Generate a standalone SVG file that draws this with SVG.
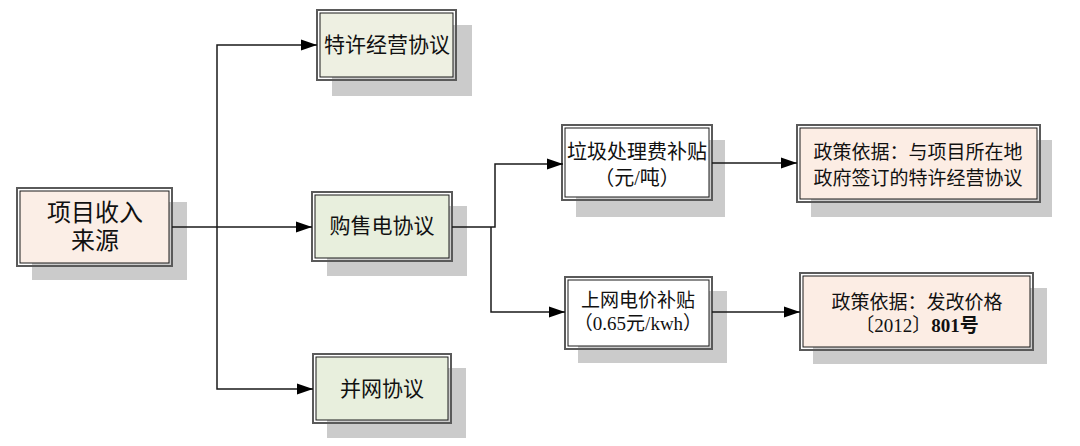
<svg xmlns="http://www.w3.org/2000/svg" width="1080" height="446" viewBox="0 0 1080 446">
<defs>
<marker id="arr" markerUnits="userSpaceOnUse" markerWidth="18" markerHeight="12" refX="16" refY="6" orient="auto">
<path d="M0,0.5 L16,6 L0,11.5 Z" fill="#000"/>
</marker>
</defs>
<style>
.sh{fill:#cbcbcb}
.o{stroke:#5a5a5a;stroke-width:2;fill:none}
.i{stroke:#1a1a1a;stroke-width:1;}
.t{font-family:"Liberation Serif","Noto Sans CJK SC",serif;fill:#111;text-anchor:middle}
.c{stroke:#1a1a1a;stroke-width:1.5;fill:none}
</style>
<rect width="1080" height="446" fill="#fff"/>
<g id="n1">
<rect class="sh" x="32" y="202" width="155" height="78"/>
<rect class="o" x="17" y="188" width="155" height="78" fill="#fff"/>
<rect class="i" x="20" y="191" width="149" height="72" fill="#fbeee6"/>
<text class="t" x="95" y="221" font-size="24">项目收入</text>
<text class="t" x="95" y="249" font-size="24">来源</text>
</g>
<g id="n2">
<rect class="sh" x="332" y="25" width="140" height="71"/>
<rect class="o" x="317" y="10" width="139" height="70" fill="#fff"/>
<rect class="i" x="320" y="13" width="133" height="64" fill="#eef0e2"/>
<text class="t" x="387" y="52" font-size="21">特许经营协议</text>
</g>
<g id="n3">
<rect class="sh" x="327" y="206" width="140" height="70"/>
<rect class="o" x="312" y="192" width="140" height="69" fill="#fff"/>
<rect class="i" x="315" y="195" width="134" height="63" fill="#e8efdd"/>
<text class="t" x="382" y="233" font-size="21">购售电协议</text>
</g>
<g id="n4">
<rect class="sh" x="327" y="368" width="139" height="70"/>
<rect class="o" x="313" y="354" width="138" height="69" fill="#fff"/>
<rect class="i" x="316" y="357" width="132" height="63" fill="#e8efdd"/>
<text class="t" x="382" y="396" font-size="21">并网协议</text>
</g>
<g id="n5">
<rect class="sh" x="576" y="140" width="149" height="77"/>
<rect class="o" x="562" y="125" width="150" height="75" fill="#fff"/>
<rect class="i" x="565" y="128" width="144" height="69" fill="#fff"/>
<text class="t" x="637" y="159" font-size="20">垃圾处理费补贴</text>
<text class="t" x="637" y="185" font-size="20">（元/吨）</text>
</g>
<g id="n6">
<rect class="sh" x="578" y="291" width="149" height="72"/>
<rect class="o" x="565" y="277" width="147" height="72" fill="#fff"/>
<rect class="i" x="568" y="280" width="141" height="66" fill="#fff"/>
<text class="t" x="638" y="307" font-size="19">上网电价补贴</text>
<text class="t" x="638" y="330" font-size="19">（0.65元/kwh）</text>
</g>
<g id="n7">
<rect class="sh" x="811" y="140" width="241" height="77"/>
<rect class="o" x="797" y="125" width="243" height="77" fill="#fff"/>
<rect class="i" x="800" y="128" width="237" height="71" fill="#fcede4"/>
<text class="t" x="918" y="159" font-size="19">政策依据：与项目所在地</text>
<text class="t" x="918" y="185" font-size="19">政府签订的特许经营协议</text>
</g>
<g id="n8">
<rect class="sh" x="813" y="288" width="234" height="76"/>
<rect class="o" x="800" y="273" width="233" height="77" fill="#fff"/>
<rect class="i" x="803" y="276" width="227" height="71" fill="#fcede4"/>
<text class="t" x="917" y="309" font-size="19">政策依据：发改价格</text>
<text class="t" x="917" y="332" font-size="19">〔2012〕<tspan font-weight="bold">801号</tspan></text>
</g>
<g id="connectors">
<polyline class="c" points="172,227 312,227" marker-end="url(#arr)"/>
<polyline class="c" points="217,227 217,45 317,45" marker-end="url(#arr)"/>
<polyline class="c" points="217,227 217,389 313,389" marker-end="url(#arr)"/>
<polyline class="c" points="452,227 495,227 495,164 563,164" marker-end="url(#arr)"/>
<polyline class="c" points="491,227 491,312 565,312" marker-end="url(#arr)"/>
<polyline class="c" points="712,163 797,163" marker-end="url(#arr)"/>
<polyline class="c" points="712,312 800,312" marker-end="url(#arr)"/>
</g>
</svg>
